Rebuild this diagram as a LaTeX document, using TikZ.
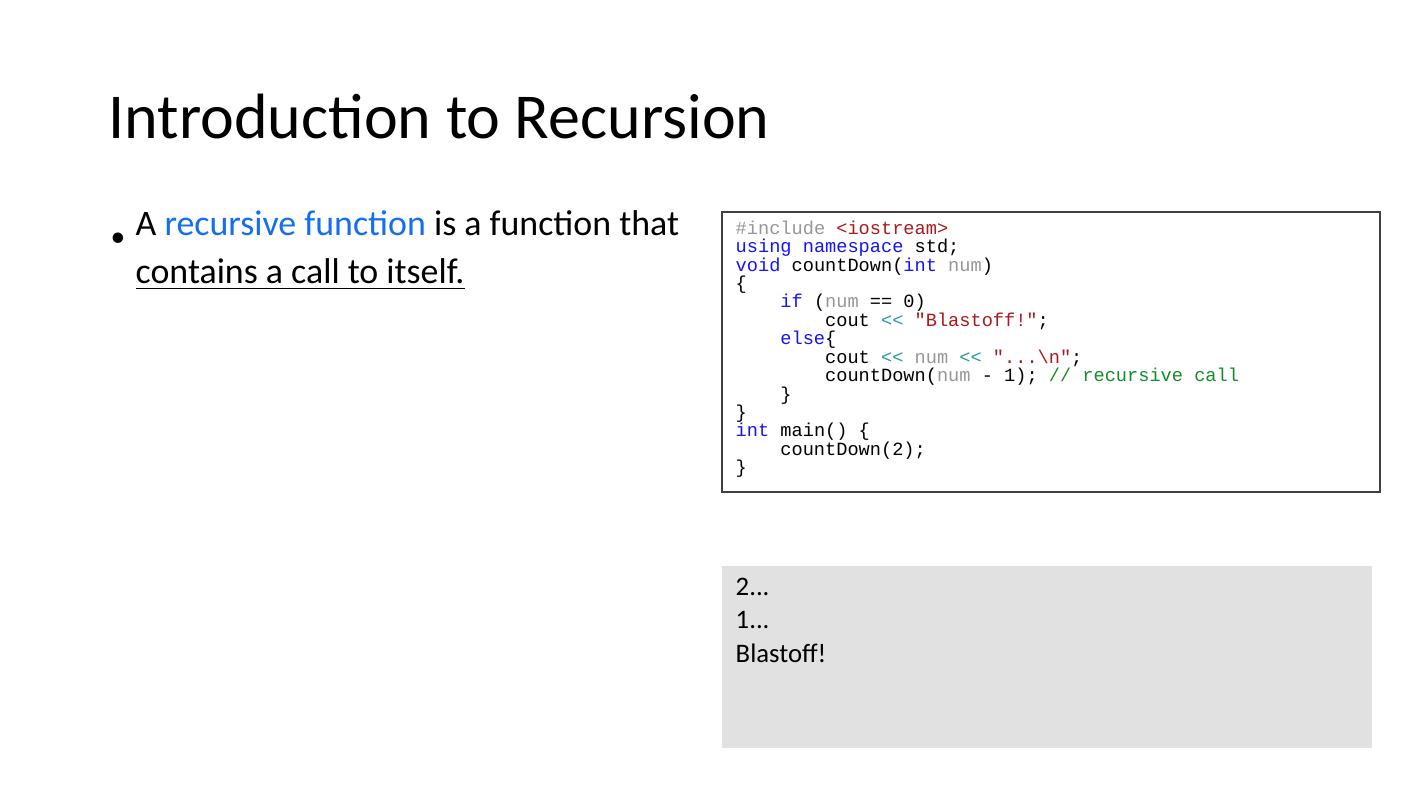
\documentclass[tikz,border=0pt]{standalone}
\usepackage{fontspec}
\setmainfont{Carlito}
\setmonofont{Liberation Mono}
\definecolor{kwblue}{RGB}{20,20,250}
\definecolor{strred}{RGB}{170,25,30}
\definecolor{argrey}{RGB}{150,150,150}
\definecolor{opteal}{RGB}{40,150,160}
\definecolor{cmgreen}{RGB}{20,140,40}
\definecolor{linkblue}{RGB}{20,110,240}
\definecolor{outgrey}{RGB}{225,225,225}
\newcommand{\kw}[1]{\textcolor{kwblue}{#1}}
\newcommand{\st}[1]{\textcolor{strred}{#1}}
\newcommand{\ar}[1]{\textcolor{argrey}{#1}}
\newcommand{\op}[1]{\textcolor{opteal}{#1}}
\newcommand{\ind}{\hspace*{2.4em}}
\begin{document}
\begin{tikzpicture}[x=0.01cm, y=-0.01cm,
  codebox/.style={draw=black!75, line width=0.6pt},
  outbox/.style={fill=outgrey},
  txt/.style={anchor=north west, inner sep=0, align=left}]
	\useasboundingbox (0,0) rectangle (1419,799);
	% titel
	\node (title) [anchor=base west, inner sep=0, font=\fontsize{18.2pt}{22pt}\selectfont] at (108,138) {Introduction to Recursion};
	% punkt
	\node (dot) [anchor=base west, inner sep=0, font=\fontsize{8.4pt}{10pt}\selectfont] at (110,246) {•};
	\node (bullet) [txt, anchor=base west, font=\fontsize{10.2pt}{10.2pt}\selectfont] at (135,283) {A \textcolor{linkblue}{recursive function} is a function that\\[0.12cm] \underline{contains a call to itself.}};
	% code
	\draw [codebox] (722,212) rectangle (1380,492);
	\node (code) [txt, font=\fontsize{5.3pt}{5.24pt}\selectfont\ttfamily] at (735,220) {
		\ar{\#include} \st{<iostream>}\\
		\kw{using} \kw{namespace} std;\\
		\kw{void} countDown(\kw{int} \ar{num})\\
		\{\\
		\ind\kw{if} (\ar{num} == 0)\\
		\ind\ind cout \op{<<} \st{"Blastoff!"};\\
		\ind\kw{else}\{\\
		\ind\ind cout \op{<<} \ar{num} \op{<<} \st{"...\textbackslash n"};\\
		\ind\ind countDown(\ar{num} - 1); \textcolor{cmgreen}{// recursive call}\\
		\ind\}\\
		\}\\
		\kw{int} main() \{\\
		\ind countDown(2);\\
		\}};
	% ausgabe
	\fill [outbox] (722,566) rectangle (1372,748);
	\node (output) [txt, anchor=base west, font=\fontsize{7.6pt}{9.4pt}\selectfont] at (735,662) {2...\\ 1...\\ Blastoff!};
\end{tikzpicture}
\end{document}
